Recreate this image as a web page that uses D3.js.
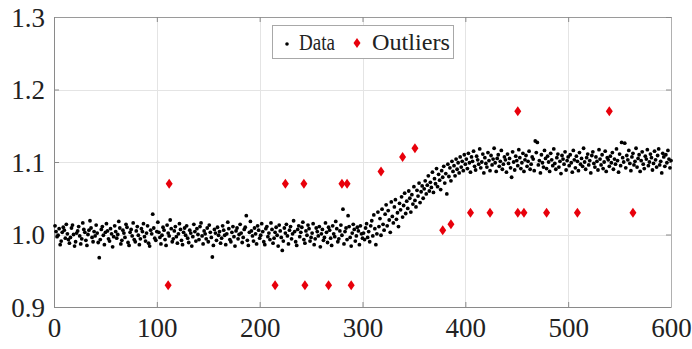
<!DOCTYPE html>
<html>
<head>
<meta charset="utf-8">
<script src="https://cdn.jsdelivr.net/npm/d3@7"></script>
<style>
  html, body { margin: 0; padding: 0; background: #fff; }
  svg { display: block; }
  text { font-family: "Liberation Serif", "Times New Roman", serif; fill: #222; }
</style>
</head>
<body>
<svg id="chart" width="692" height="349"></svg>
<script>
// Measured signal: one reading per sample index 1..600
const signal = [
  1.012, 1.004, 0.997, 0.999, 1.008, 0.986, 0.991, 1.003, 1.010, 1.006, 0.995, 1.014, 1.001, 0.993, 0.988, 0.996, 1.009, 1.013, 1.000, 0.984,
  0.990, 1.002, 1.005, 1.011, 0.998, 0.987, 0.994, 1.016, 1.007, 1.003, 0.992, 0.985, 1.000, 1.006, 1.019, 1.009, 0.996, 0.990, 1.004, 0.998,
  1.013, 1.002, 0.989, 0.968, 0.993, 1.007, 1.011, 0.999, 0.986, 1.003, 1.015, 1.005, 0.994, 0.991, 1.008, 1.001, 0.983, 0.997, 1.012, 1.004,
  0.995, 1.000, 1.018, 1.009, 0.987, 0.992, 1.006, 1.002, 0.996, 1.014, 1.010, 0.989, 0.985, 1.003, 1.007, 0.998, 1.016, 0.993, 0.990, 1.005,
  1.011, 0.999, 0.986, 0.994, 1.008, 1.004, 1.015, 0.997, 0.991, 1.002, 1.012, 0.988, 0.984, 1.006, 1.001, 1.028, 1.009, 0.995, 0.992, 1.004,
  1.017, 1.003, 0.996, 0.987, 0.999, 1.010, 1.006, 0.993, 0.985, 1.013, 1.002, 0.998, 1.020, 1.008, 0.990, 0.994, 1.005, 1.011, 0.997, 0.988,
  1.001, 1.015, 1.007, 0.992, 0.986, 1.003, 1.009, 0.999, 1.012, 0.995, 0.989, 1.006, 1.002, 0.984, 0.997, 1.014, 1.004, 0.991, 1.008, 1.000,
  0.993, 1.011, 1.016, 0.998, 0.987, 1.005, 1.001, 0.994, 1.009, 0.990, 1.013, 1.003, 0.996, 0.969, 0.985, 1.007, 1.002, 0.992, 1.010, 0.999,
  1.004, 0.988, 0.995, 1.012, 1.006, 0.999, 0.986, 1.001, 1.017, 1.008, 0.993, 0.990, 1.003, 1.011, 0.997, 0.984, 1.005, 1.009, 0.994, 1.000,
  1.014, 1.002, 0.989, 0.996, 1.007, 1.010, 1.026, 0.992, 0.985, 1.003, 1.018, 1.005, 0.998, 0.991, 1.009, 1.001, 0.987, 1.012, 1.006, 0.995,
  0.999, 1.015, 1.004, 0.990, 0.986, 1.008, 1.011, 0.997, 1.002, 0.993, 1.016, 1.007, 0.988, 0.995, 1.003, 1.010, 0.999, 0.984, 1.013, 1.005,
  0.996, 0.978, 0.991, 1.009, 1.002, 1.014, 0.998, 0.987, 1.006, 1.011, 0.994, 1.001, 1.019, 1.004, 0.990, 0.985, 1.007, 1.012, 0.997, 1.003,
  1.010, 1.017, 0.993, 0.988, 1.005, 0.999, 1.013, 1.008, 0.991, 0.996, 1.002, 1.015, 0.986, 0.994, 1.009, 1.004, 0.998, 1.011, 0.983, 1.001,
  1.007, 0.992, 0.996, 1.016, 1.003, 0.989, 1.010, 1.006, 0.995, 0.985, 1.012, 1.001, 0.997, 1.018, 1.008, 0.990, 0.994, 1.005, 1.013, 0.999,
  1.035, 0.987, 1.004, 1.009, 0.993, 1.026, 1.011, 0.996, 0.984, 1.002, 1.014, 1.007, 0.991, 0.998, 1.010, 1.005, 0.986, 1.012, 1.001, 0.995,
  1.002, 0.993, 1.009, 1.015, 0.996, 1.004, 0.990, 1.012, 1.019, 0.998, 1.027, 1.008, 0.986, 1.001, 1.031, 1.011, 1.022, 0.999, 1.035, 1.014,
  1.006, 1.028, 1.041, 1.012, 1.033, 1.020, 1.003, 1.045, 1.025, 1.016, 1.038, 1.048, 1.021, 1.030, 1.011, 1.043, 1.034, 1.052, 1.024, 1.040,
  1.057, 1.029, 1.046, 1.036, 1.060, 1.050, 1.031, 1.055, 1.042, 1.066, 1.047, 1.038, 1.061, 1.053, 1.071, 1.044, 1.059, 1.067, 1.050, 1.063,
  1.074, 1.056, 1.068, 1.081, 1.060, 1.072, 1.065, 1.086, 1.058, 1.077, 1.070, 1.091, 1.066, 1.083, 1.075, 1.062, 1.088, 1.079, 1.094, 1.071,
  1.084, 1.056, 1.097, 1.080, 1.092, 1.074, 1.101, 1.087, 1.095, 1.081, 1.104, 1.090, 1.099, 1.085, 1.107, 1.093, 1.101, 1.088, 1.110, 1.097,
  1.104, 1.091, 1.112, 1.099, 1.086, 1.107, 1.101, 1.115, 1.094, 1.089, 1.108, 1.103, 1.097, 1.118, 1.092, 1.100, 1.111, 1.085, 1.106, 1.098,
  1.093, 1.113, 1.102, 1.088, 1.109, 1.096, 1.104, 1.119, 1.099, 1.087, 1.105, 1.110, 1.094, 1.101, 1.116, 1.090, 1.097, 1.107, 1.103, 1.086,
  1.111, 1.098, 1.105, 1.092, 1.079, 1.114, 1.100, 1.089, 1.108, 1.102, 1.095, 1.117, 1.106, 1.091, 1.099, 1.112, 1.087, 1.103, 1.109, 1.094,
  1.101, 1.115, 1.090, 1.097, 1.107, 1.104, 1.088, 1.129, 1.113, 1.127, 1.096, 1.102, 1.085, 1.110, 1.099, 1.093, 1.116, 1.105, 1.091, 1.108,
  1.100, 1.087, 1.112, 1.103, 1.095, 1.118, 1.098, 1.090, 1.106, 1.111, 1.093, 1.101, 1.084, 1.109, 1.104, 1.097, 1.114, 1.089, 1.102, 1.107,
  1.095, 1.110, 1.099, 1.086, 1.116, 1.103, 1.092, 1.108, 1.101, 1.088, 1.113, 1.097, 1.105, 1.094, 1.119, 1.100, 1.090, 1.106, 1.111, 1.096,
  1.102, 1.085, 1.109, 1.114, 1.098, 1.093, 1.107, 1.101, 1.089, 1.117, 1.104, 1.096, 1.110, 1.091, 1.100, 1.115, 1.087, 1.106, 1.103, 1.094,
  1.108, 1.099, 1.113, 1.090, 1.104, 1.097, 1.118, 1.102, 1.086, 1.111, 1.095, 1.127, 1.106, 1.100, 1.126, 1.092, 1.109, 1.103, 1.116, 1.098,
  1.088, 1.107, 1.112, 1.096, 1.101, 1.119, 1.093, 1.105, 1.110, 1.087, 1.102, 1.114, 1.097, 1.091, 1.108, 1.104, 1.117, 1.095, 1.100, 1.111,
  1.106, 1.089, 1.098, 1.115, 1.103, 1.093, 1.109, 1.118, 1.096, 1.101, 1.085, 1.112, 1.107, 1.094, 1.110, 1.099, 1.116, 1.104, 1.092, 1.102
];

// Flagged outliers: sample index and value
const outlierIndex = [111, 112, 215, 225, 243, 244, 267, 280, 285, 289, 318, 339, 351, 378, 386, 405, 424, 451, 451, 457, 479, 509, 540, 563];
const outlierValue = [0.93, 1.07, 0.93, 1.07, 1.07, 0.93, 0.93, 1.07, 1.07, 0.93, 1.087, 1.107, 1.119, 1.006, 1.014, 1.03, 1.03, 1.17, 1.03, 1.03, 1.03, 1.03, 1.17, 1.03];

const xTicks = [0, 100, 200, 300, 400, 500, 600];
const yTicks = [0.9, 1.0, 1.1, 1.2, 1.3];
const yTickLabels = ["0.9", "1.0", "1.1", "1.2", "1.3"];
const legendLabels = ["Data", "Outliers"];

const svg = d3.select("#chart");
const plot = { left: 54, right: 671, top: 17, bottom: 307 };

const x = d3.scaleLinear().domain([0, 600]).range([plot.left, plot.right]);
const y = d3.scaleLinear().domain([0.9, 1.3]).range([plot.bottom, plot.top]);

// grid
const grid = svg.append("g").attr("stroke", "#e4e4e4").attr("stroke-width", 1);
grid.selectAll("line.gx").data(xTicks.slice(1, -1)).join("line")
  .attr("x1", d => Math.round(x(d)) + 0.5).attr("x2", d => Math.round(x(d)) + 0.5)
  .attr("y1", plot.top).attr("y2", plot.bottom);
grid.selectAll("line.gy").data(yTicks.slice(1, -1)).join("line")
  .attr("y1", d => Math.round(y(d)) + 0.5).attr("y2", d => Math.round(y(d)) + 0.5)
  .attr("x1", plot.left).attr("x2", plot.right);

// axes (inward ticks)
const axisColor = "#8a8a8a";
const bottomAxis = svg.append("g")
  .attr("transform", `translate(0,${plot.bottom})`)
  .call(d3.axisBottom(x).tickValues(xTicks).tickSizeInner(-5).tickSizeOuter(0).tickPadding(9));
const leftAxis = svg.append("g")
  .attr("transform", `translate(${plot.left},0)`)
  .call(d3.axisLeft(y).tickValues(yTicks).tickFormat((d, i) => yTickLabels[i]).tickSizeInner(-5).tickSizeOuter(0).tickPadding(9));
const topAxis = svg.append("g")
  .attr("transform", `translate(0,${plot.top})`)
  .call(d3.axisTop(x).tickValues(xTicks).tickSizeInner(-5).tickSizeOuter(0).tickFormat(""));
const rightAxis = svg.append("g")
  .attr("transform", `translate(${plot.right},0)`)
  .call(d3.axisRight(y).tickValues(yTicks).tickSizeInner(-5).tickSizeOuter(0).tickFormat(""));

[bottomAxis, leftAxis, topAxis, rightAxis].forEach(g => {
  g.select(".domain").attr("stroke", axisColor);
  g.selectAll(".tick line").attr("stroke", axisColor);
});
topAxis.select(".domain").attr("stroke", "#9a9a9a");
rightAxis.select(".domain").attr("stroke", "#b0b0b0");

bottomAxis.selectAll(".tick text")
  .style("font-family", '"Liberation Serif", serif')
  .style("font-size", "27px").attr("fill", "#222").attr("dy", "0.78em");
leftAxis.selectAll(".tick text")
  .style("font-family", '"Liberation Serif", serif')
  .style("font-size", "27px").attr("fill", "#222").attr("dy", "0.34em");

// data points
svg.append("g").selectAll("circle").data(signal).join("circle")
  .attr("cx", (d, i) => x(i + 1))
  .attr("cy", d => y(d))
  .attr("r", 1.9)
  .attr("fill", "#000");

// outlier diamonds
const diamond = (cx, cy, w, h) => `M${cx},${cy - h / 2}L${cx + w / 2},${cy}L${cx},${cy + h / 2}L${cx - w / 2},${cy}Z`;
svg.append("g").selectAll("path").data(outlierIndex).join("path")
  .attr("d", (d, i) => diamond(x(d), y(outlierValue[i]), 7, 10))
  .attr("fill", "#e8000b");

// legend
const lg = svg.append("g");
lg.append("rect").attr("x", 272.5).attr("y", 25.5).attr("width", 181).attr("height", 33)
  .attr("fill", "#fff").attr("stroke", "#a8a8a8");
lg.append("circle").attr("cx", 287).attr("cy", 44).attr("r", 1.8).attr("fill", "#000");
lg.append("text").attr("x", 299).attr("y", 50).text(legendLabels[0])
  .style("font-size", "23px").attr("textLength", 36).attr("lengthAdjust", "spacingAndGlyphs");
lg.append("path").attr("d", diamond(357, 43, 7, 10)).attr("fill", "#e8000b");
lg.append("text").attr("x", 372).attr("y", 50).text(legendLabels[1])
  .style("font-size", "23px").attr("textLength", 78).attr("lengthAdjust", "spacingAndGlyphs");
</script>
</body>
</html>
